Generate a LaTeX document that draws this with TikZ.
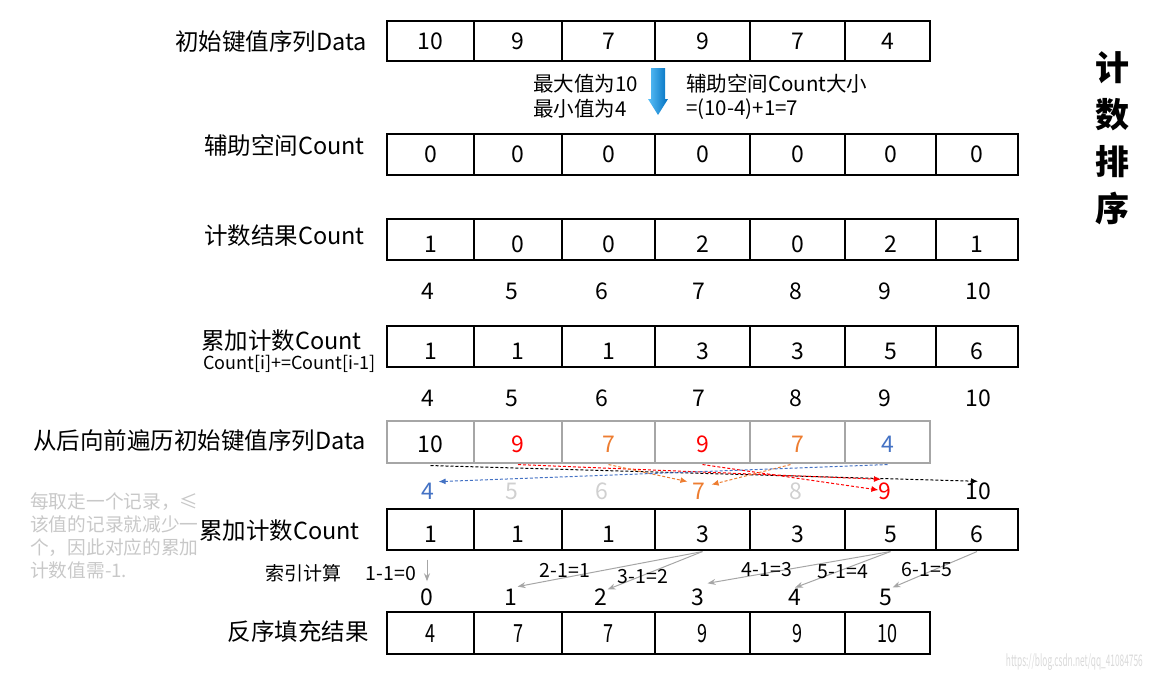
\documentclass[tikz,border=0pt]{standalone}
\usepackage{fontspec}
\usepackage{graphicx}
\setmainfont{Noto Sans CJK SC}
\usetikzlibrary{arrows.meta,calc}
\definecolor{cred}{HTML}{FF0000}
\definecolor{corange}{HTML}{ED7D31}
\definecolor{cblue}{HTML}{4472C4}
\definecolor{cfade}{HTML}{D0D0D0}
\definecolor{cgrayline}{HTML}{A6A6A6}
\definecolor{cnote}{HTML}{C8C8C8}
\definecolor{cwater}{HTML}{D9D9D9}
\definecolor{arrowL}{HTML}{5BC0F8}
\definecolor{arrowR}{HTML}{0070C0}
\tikzset{
 cellbox/.style={draw, line width=1.1pt, minimum height=41pt, inner sep=0pt, font=\fontsize{23}{23}\selectfont, text height=16.9pt, text depth=0pt},
 lowtext/.style={text height=25.5pt},
 graycell/.style={cellbox, draw=cgrayline},
 lbl/.style={anchor=east, inner sep=0pt, font=\fontsize{23.5}{23.5}\selectfont},
 idx/.style={inner sep=0pt, font=\fontsize{23}{23}\selectfont},
 smalltxt/.style={inner sep=0pt, font=\fontsize{20.5}{20.5}\selectfont},
 calclbl/.style={inner sep=0pt, font=\fontsize{19.5}{19.5}\selectfont},
 darr/.style={dash pattern=on 3pt off 2pt, line width=1pt, -{Latex[length=7pt,width=6pt]}},
 garr/.style={cgrayline, line width=1pt, -{Stealth[length=8pt,width=6pt]}},
}
\def\bsev{{387,474,562,655,750,845,936,1018}}
\def\bsix{{387,474,562,655,750,845,930}}
\begin{document}
\begin{tikzpicture}[x=1pt,y=-1pt]
\useasboundingbox (0,0) rectangle (1151,680);
% row 1: data
\foreach \v [count=\i] in {10,9,7,9,7,4} {
  \pgfmathsetmacro\xl{\bsix[\i-1]}\pgfmathsetmacro\xr{\bsix[\i]}
  \node[cellbox, minimum width=\xr-\xl, minimum height=40pt] (a\i) at ({(\xl+\xr)/2},41) {\v};
}
\node[lbl] (la) at (367,42) {初始键值序列Data};
% blue arrow and notes
\shade[left color=arrowL, right color=arrowR] (651,68) -- (665,68) -- (665,99) -- (668,99) -- (658,115) -- (648,99) -- (651,99) -- cycle;
\node[smalltxt, anchor=west] (mx) at (533,84) {最大值为10};
\node[smalltxt, anchor=west] (mn) at (533,109) {最小值为4};
\node[smalltxt, anchor=west] (sz) at (686,84) {辅助空间Count大小};
\node[smalltxt, anchor=west] (sf) at (686,109) {=(10-4)+1=7};
% row 2
\foreach \v [count=\i] in {0,0,0,0,0,0,0} {
  \pgfmathsetmacro\xl{\bsev[\i-1]}\pgfmathsetmacro\xr{\bsev[\i]}
  \node[cellbox, minimum width=\xr-\xl] (b\i) at ({(\xl+\xr)/2},154.5) {\v};
}
\node[lbl] (lb) at (365,146) {辅助空间Count};
% row 3
\foreach \v [count=\i] in {1,0,0,2,0,2,1} {
  \pgfmathsetmacro\xl{\bsev[\i-1]}\pgfmathsetmacro\xr{\bsev[\i]}
  \node[cellbox, lowtext, minimum width=\xr-\xl] (c\i) at ({(\xl+\xr)/2},239.5) {\v};
}
\node[lbl] (lc) at (365,236) {计数结果Count};
\foreach \v/\x [count=\i] in {4/428,5/512,6/602,7/699,8/796,9/885,10/978}
  \node[idx] (ic\i) at (\x,291) {\v};
% row 4
\foreach \v [count=\i] in {1,1,1,3,3,5,6} {
  \pgfmathsetmacro\xl{\bsev[\i-1]}\pgfmathsetmacro\xr{\bsev[\i]}
  \node[cellbox, lowtext, minimum width=\xr-\xl] (d\i) at ({(\xl+\xr)/2},346.5) {\v};
}
\node[lbl] (ld) at (362,341) {累加计数Count};
\node[calclbl, anchor=east, font=\fontsize{18}{18}\selectfont] (ldf) at (376,364) {Count[i]+=Count[i-1]};
\foreach \v/\x [count=\i] in {4/428,5/512,6/602,7/699,8/796,9/885,10/978}
  \node[idx] (id\i) at (\x,398) {\v};
% row 5
\foreach \v/\c [count=\i] in {10/black,9/cred,7/corange,9/cred,7/corange,4/cblue} {
  \pgfmathsetmacro\xl{\bsix[\i-1]}\pgfmathsetmacro\xr{\bsix[\i]}
  \node[graycell, text=\c, minimum width=\xr-\xl, minimum height=42pt, text height=20pt] (e\i) at ({(\xl+\xr)/2},442) {\v};
}
\node[lbl] (le) at (366,441) {从后向前遍历初始键值序列Data};
\foreach \v/\x/\c [count=\i] in {4/428/cblue,5/512/cfade,6/602/cfade,7/699/corange,8/796/cfade,9/885/cred,10/978/black}
  \node[idx, text=\c] (f\i) at (\x,491) {\v};
% dashed arrows
\draw[darr, black] ([yshift=-2pt]e1.south) -- ([yshift=1pt]f7.north);
\draw[darr, cred] ([yshift=-1pt]e2.south) -- ([xshift=-4pt,yshift=3pt]f6.north);
\draw[darr, cred] ([yshift=-1pt]e4.south) -- ([yshift=1pt]f6.west);
\draw[darr, corange] ([yshift=-1pt]e3.south) -- ([xshift=-5pt,yshift=1pt]f4.north west);
\draw[darr, corange] ([xshift=-7pt,yshift=-1pt]e5.south) -- ([xshift=6pt,yshift=-2pt]f4.north east);
\draw[darr, cblue] ([yshift=-1pt]e6.south) -- ([xshift=4pt,yshift=1pt]f1.north east);
% note
\node[anchor=north west, align=left, text=cnote, font=\fontsize{18.7}{23}\selectfont, inner sep=0pt] (note) at (30,492) {每取走一个记录，≤\\该值的记录就减少一\\个，因此对应的累加\\计数值需-1.};
% row 6
\foreach \v [count=\i] in {1,1,1,3,3,5,6} {
  \pgfmathsetmacro\xl{\bsev[\i-1]}\pgfmathsetmacro\xr{\bsev[\i]}
  \node[cellbox, lowtext, minimum width=\xr-\xl] (g\i) at ({(\xl+\xr)/2},529.5) {\v};
}
\node[lbl] (lg) at (360,531) {累加计数Count};
% index calculation
\node[smalltxt, font=\fontsize{19}{19}\selectfont] (ix) at (303,573) {索引计算};
\foreach \v/\x [count=\i] in {0/427,1/511,2/601,3/698,4/795,5/886}
  \node[idx] (h\i) at (\x,597) {\v};
\draw[garr] ($(g1.south -| h1.north)+(0,9)$) -- ([yshift=7pt]h1.north);
\draw[garr] ([yshift=-1pt]g4.south) -- ([yshift=2pt]h2.north east);
\draw[garr] ([yshift=-1pt]g4.south) -- ([yshift=-1pt]h3.north east);
\draw[garr] ([yshift=-1pt]g6.south) -- ([xshift=3pt,yshift=5pt]h4.north east);
\draw[garr] ([yshift=-1pt]g6.south) -- ([yshift=1pt]h5.north);
\draw[garr] ([yshift=-1pt]g7.south) -- ([yshift=1pt]h6.north east);
\node[calclbl] (k1) at (391,574) {1-1=0};
\node[calclbl] (k2) at (565,570) {2-1=1};
\node[calclbl] (k3) at (643,577) {3-1=2};
\node[calclbl] (k4) at (767,570) {4-1=3};
\node[calclbl] (k5) at (843,572) {5-1=4};
\node[calclbl] (k6) at (927,570) {6-1=5};
% row 7
\foreach \v [count=\i] in {4,7,7,9,9,10} {
  \pgfmathsetmacro\xl{\bsix[\i-1]}\pgfmathsetmacro\xr{\bsix[\i]}
  \node[cellbox, minimum width=\xr-\xl, minimum height=42pt, font=\fontsize{25}{25}\selectfont, text height=18.5pt] (r\i) at ({(\xl+\xr)/2},633) {\scalebox{0.72}[1]{\v}};
}
\node[lbl] (lr) at (369,632) {反序填充结果};
% title
\node[font=\fontsize{34}{47}\selectfont\bfseries, align=center, inner sep=0pt] (title) at (1112,138) {计\\数\\排\\序};
% watermark
\node[anchor=east, text=cwater, inner sep=0pt, font=\fontsize{16}{16}\selectfont] (wm) at (1143,662) {\scalebox{0.52}[1]{https://blog.csdn.net/qq\_41084756}};
\end{tikzpicture}
\end{document}
